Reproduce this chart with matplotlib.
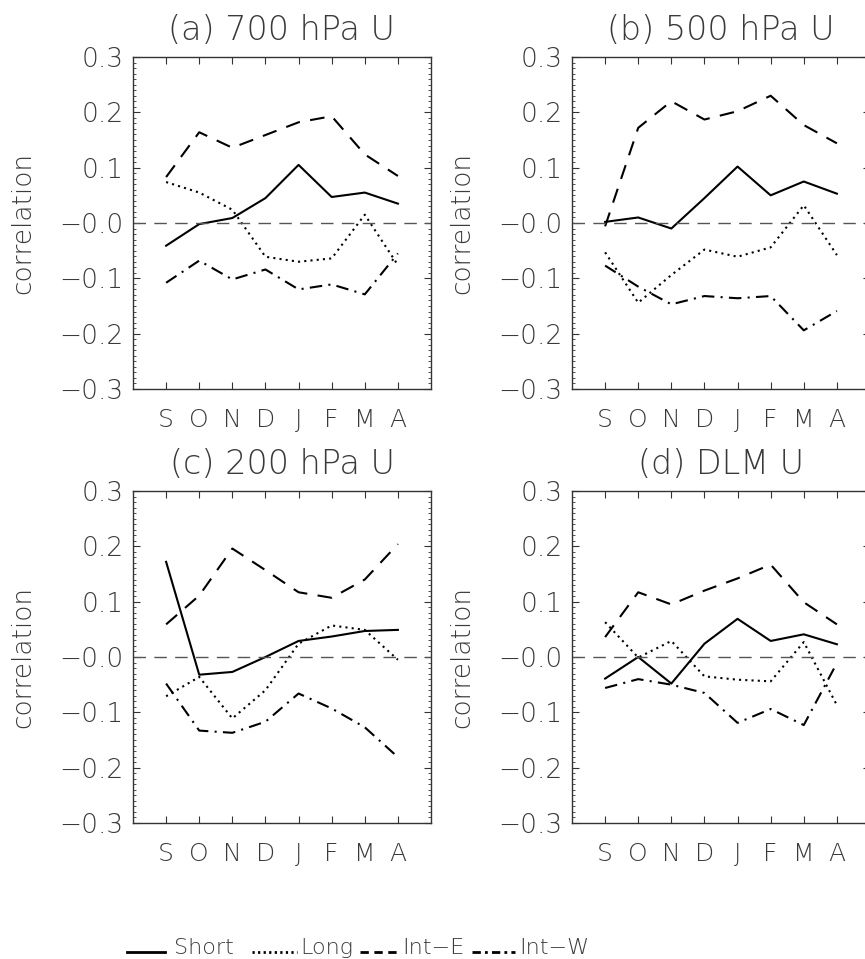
import matplotlib
matplotlib.use('Agg')
import matplotlib.pyplot as plt
from matplotlib.lines import Line2D
from matplotlib.ticker import MultipleLocator, FixedLocator, FixedFormatter

# datos
months = ['S', 'O', 'N', 'D', 'J', 'F', 'M', 'A']
ytick_vals = [-0.3, -0.2, -0.1, 0.0, 0.1, 0.2, 0.3]
ytick_labels = ['\u22120.3', '\u22120.2', '\u22120.1', '\u22120.0', '0.1', '0.2', '0.3']
titles = ['(a) 700 hPa U', '(b) 500 hPa U', '(c) 200 hPa U', '(d) DLM U']
series_names = ['Short', 'Long', 'Int\u2212E', 'Int\u2212W']

short_a = [-0.041, -0.002, 0.009, 0.045, 0.105, 0.047, 0.055, 0.035]
long_a = [0.074, 0.055, 0.024, -0.061, -0.070, -0.064, 0.015, -0.076]
inte_a = [0.083, 0.164, 0.136, 0.159, 0.182, 0.193, 0.124, 0.085]
intw_a = [-0.108, -0.068, -0.102, -0.084, -0.120, -0.111, -0.129, -0.055]

short_b = [0.002, 0.010, -0.010, 0.045, 0.102, 0.050, 0.075, 0.053]
long_b = [-0.053, -0.144, -0.094, -0.048, -0.061, -0.044, 0.032, -0.058]
inte_b = [-0.006, 0.172, 0.220, 0.187, 0.202, 0.230, 0.177, 0.144]
intw_b = [-0.077, -0.115, -0.147, -0.132, -0.136, -0.132, -0.194, -0.159]

short_c = [0.172, -0.032, -0.027, 0.000, 0.029, 0.037, 0.047, 0.049]
long_c = [-0.071, -0.036, -0.111, -0.060, 0.024, 0.057, 0.049, -0.005]
inte_c = [0.059, 0.111, 0.196, 0.157, 0.117, 0.107, 0.140, 0.204]
intw_c = [-0.048, -0.133, -0.137, -0.117, -0.066, -0.093, -0.127, -0.181]

short_d = [-0.039, 0.000, -0.048, 0.024, 0.069, 0.029, 0.041, 0.023]
long_d = [0.063, -0.001, 0.029, -0.035, -0.041, -0.044, 0.027, -0.087]
inte_d = [0.036, 0.117, 0.095, 0.120, 0.142, 0.167, 0.099, 0.059]
intw_d = [-0.056, -0.040, -0.050, -0.065, -0.119, -0.094, -0.123, -0.011]

panels = [
    [short_a, long_a, inte_a, intw_a],
    [short_b, long_b, inte_b, intw_b],
    [short_c, long_c, inte_c, intw_c],
    [short_d, long_d, inte_d, intw_d],
]

styles = ['-', (0, (1, 2)), (0, (7, 5)), (0, (6, 3, 1, 3))]
txt_color = '#3a3a3a'
font = 'DejaVu Sans'

W, H = 865, 959
fig = plt.figure(figsize=(W / 100, H / 100), dpi=100)

# posiciones de los ejes en pixeles (izq, arriba)
rects = [(133, 57), (572, 57), (133, 491), (572, 491)]
aw, ah = 298, 332

x = list(range(1, len(months) + 1))
for i, (l, t) in enumerate(rects):
    ax = fig.add_axes([l / W, (H - t - ah) / H, aw / W, ah / H])
    for data, ls in zip(panels[i], styles):
        ax.plot(x, data, color='black', lw=1.5, linestyle=ls)
    ax.axhline(0, color='#555555', lw=1.0, linestyle=(0, (9, 6)))
    ax.set_xlim(0, 9)
    ax.set_ylim(-0.3, 0.3)
    ax.xaxis.set_major_locator(FixedLocator(x))
    ax.set_xticklabels(months, fontsize=18, color=txt_color, family=font, fontweight='light')
    ax.yaxis.set_major_locator(FixedLocator(ytick_vals))
    ax.yaxis.set_major_formatter(FixedFormatter(ytick_labels))
    ax.yaxis.set_minor_locator(MultipleLocator(0.01))
    ax.tick_params(axis='both', which='both', direction='in', top=True, right=True)
    ax.tick_params(axis='both', which='major', length=5, width=0.8, color='#333333')
    ax.tick_params(axis='y', which='minor', length=2, width=0.6, color='#333333')
    ax.tick_params(axis='x', which='major', pad=14)
    ax.tick_params(axis='y', which='major', pad=7)
    for lab in ax.get_yticklabels():
        lab.set_fontsize(19)
        lab.set_color(txt_color)
        lab.set_family(font)
        lab.set_fontweight('light')
    for sp in ax.spines.values():
        sp.set_linewidth(1.0)
        sp.set_color('#333333')
    ax.set_ylabel('correlation', fontsize=19, color=txt_color, family=font,
                  fontweight='light', labelpad=17)
    ax.set_title(titles[i], fontsize=24, color=txt_color, family=font,
                 fontweight='light', pad=12)

# leyenda
leg_y = 1 - 952 / H
leg_items = [(127, 165, 174), (252, 297, 300), (360, 398, 402), (472, 515, 519)]
leg_styles = ['-', (0, (0.8, 1.2)), (0, (3, 2)), (0, (3, 1.5, 1, 1.5))]
for (x0, x1, xt), name, ls in zip(leg_items, series_names, leg_styles):
    fig.add_artist(Line2D([x0 / W, x1 / W], [leg_y, leg_y], color='black',
                          lw=2.0, linestyle=ls, transform=fig.transFigure))
    fig.text(xt / W, leg_y - 0.002, name, fontsize=16, color=txt_color, family=font,
             fontweight='light', ha='left', va='baseline')

plt.savefig('out.png', dpi=100)
